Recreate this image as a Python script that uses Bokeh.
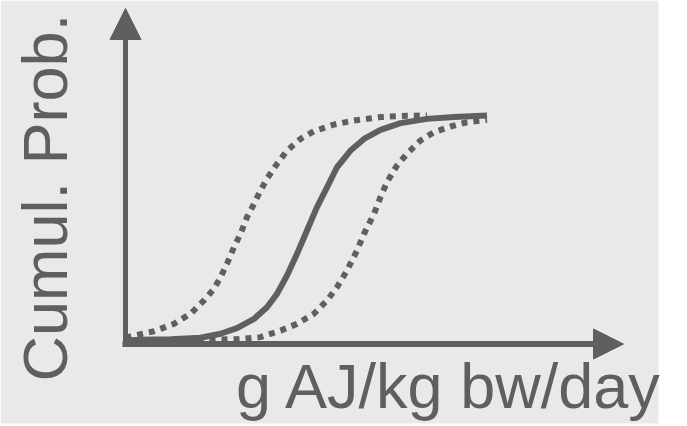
from bokeh.plotting import figure
from bokeh.models import Range1d, Arrow, NormalHead, Label
from bokeh.embed import file_html
from bokeh.resources import INLINE

# Cumulative probability curves: central estimate (solid) and bounds (dotted)
mid_dose = [0.00, 0.30, 0.90, 1.50, 1.90, 2.23, 2.57, 2.83, 3.03, 3.23, 3.43, 3.63,
            3.83, 4.03, 4.23, 4.50, 4.77, 5.10, 5.50, 6.03, 6.57, 7.23]
mid_prob = [0.000, 0.003, 0.006, 0.012, 0.030, 0.055, 0.096, 0.148, 0.207, 0.289, 0.385, 0.489,
            0.593, 0.681, 0.770, 0.844, 0.896, 0.936, 0.966, 0.985, 0.993, 1.000]

low_dose = [0.00, 0.10, 0.57, 0.97, 1.30, 1.57, 1.77, 1.90, 2.03, 2.17, 2.30, 2.43,
            2.57, 2.70, 2.83, 3.03, 3.23, 3.50, 3.77, 4.17, 4.57, 5.10, 5.63, 6.03]
low_prob = [0.012, 0.018, 0.041, 0.074, 0.119, 0.178, 0.230, 0.281, 0.341, 0.415, 0.474, 0.548,
            0.607, 0.667, 0.719, 0.785, 0.844, 0.896, 0.930, 0.960, 0.978, 0.993, 0.999, 1.000]

high_dose = [0.00, 1.57, 2.23, 2.70, 3.10, 3.43, 3.77, 4.03, 4.23, 4.43, 4.63, 4.77,
             4.97, 5.10, 5.23, 5.43, 5.63, 5.90, 6.17, 6.50, 6.83, 7.23]
high_prob = [0.000, 0.003, 0.006, 0.015, 0.044, 0.074, 0.119, 0.178, 0.237, 0.311, 0.400, 0.474,
             0.563, 0.637, 0.704, 0.778, 0.830, 0.889, 0.926, 0.951, 0.970, 0.981]

x_title = "g AJ/kg bw/day"
y_title = "Cumul. Prob."

INK = "#5f5f5f"
PANEL = "#e9e9e9"
W, H = 687, 426
X0, Y0 = 125, 340       # pixel position of the origin
SX, SY = 50.0, 225.0    # pixels per dose unit / per unit probability


def dx(px):
    return (px - X0) / SX


def dy(py):
    return (Y0 - py) / SY


p = figure(width=W, height=H, output_backend="svg", toolbar_location=None,
           x_range=Range1d(dx(0), dx(W)), y_range=Range1d(dy(H), dy(0)),
           min_border=0, outline_line_color=None,
           background_fill_color="white", border_fill_color="white")
p.axis.visible = False
p.grid.visible = False

# grey panel behind the sketch
p.quad(left=dx(0), right=dx(658), bottom=dy(423), top=dy(0),
       fill_color=PANEL, line_color=None)

# axis arrows
p.add_layout(Arrow(x_start=dx(125), y_start=dy(346), x_end=dx(125), y_end=dy(8),
                   line_color=INK, line_width=5,
                   end=NormalHead(size=31, fill_color=INK, line_color=INK, line_width=1)))
p.add_layout(Arrow(x_start=dx(122), y_start=dy(343.5), x_end=dx(623), y_end=dy(343.5),
                   line_color=INK, line_width=6,
                   end=NormalHead(size=30, fill_color=INK, line_color=INK, line_width=1)))

# curves
p.line(low_dose, low_prob, line_color=INK, line_width=6, line_dash="6 6", line_cap="butt")
p.line(high_dose, high_prob, line_color=INK, line_width=6, line_dash="6 6", line_cap="butt")
p.line(mid_dose, mid_prob, line_color=INK, line_width=6, line_join="round")

# axis titles
p.add_layout(Label(x=dx(235.5), y=dy(385.5), text=x_title, text_font="Liberation Sans",
                   text_font_size="63px", text_color=INK,
                   text_align="left", text_baseline="alphabetic"))
p.add_layout(Label(x=dx(44.5), y=dy(381), text=y_title, text_font="Liberation Sans",
                   text_font_size="63px", text_color=INK, angle=1.5708,
                   text_align="left", text_baseline="alphabetic"))

open("out.html", "w").write(file_html(p, INLINE))
